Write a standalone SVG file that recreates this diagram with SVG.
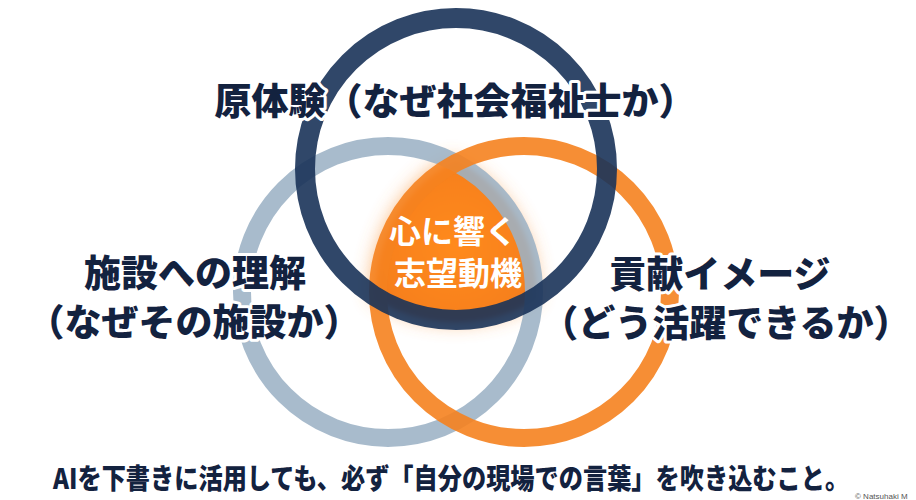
<svg xmlns="http://www.w3.org/2000/svg" width="916" height="500" viewBox="0 0 916 500">
  <defs>
    <style>
      .lbl { font-family: "Noto Sans CJK JP", "Noto Sans", sans-serif; font-weight: 900; fill: #13223f; stroke: #ffffff; stroke-width: 6; stroke-linejoin: round; paint-order: stroke; text-anchor: middle; }
      .ctr { font-family: "Noto Sans CJK JP", "Noto Sans", sans-serif; font-weight: 700; fill: #ffffff; text-anchor: middle; }
      .ring { fill: none; }
    </style>
    <clipPath id="cN"><circle cx="456" cy="169" r="153"/></clipPath>
    <clipPath id="cG"><circle cx="388" cy="292" r="148"/></clipPath>
    <radialGradient id="gFill" cx="456" cy="245" r="110" gradientUnits="userSpaceOnUse">
      <stop offset="0" stop-color="#ff8a1f"/>
      <stop offset="0.7" stop-color="#f7801c"/>
      <stop offset="1" stop-color="#e86f16"/>
    </radialGradient>
    <filter id="glow" x="-30%" y="-30%" width="160%" height="160%">
      <feGaussianBlur stdDeviation="10"/>
    </filter>
    <filter id="soft" x="-10%" y="-10%" width="120%" height="120%">
      <feGaussianBlur stdDeviation="2.5"/>
    </filter>
  </defs>
  <rect width="916" height="500" fill="#ffffff"/>

  <g id="core-glow" filter="url(#glow)" opacity="0.8">
    <g clip-path="url(#cN)"><g clip-path="url(#cG)">
      <circle cx="524" cy="292" r="152" fill="#f89a45"/>
    </g></g>
  </g>
  <g id="core-fill" filter="url(#soft)">
    <g clip-path="url(#cN)"><g clip-path="url(#cG)">
      <circle cx="524" cy="292" r="148" fill="url(#gFill)"/>
    </g></g>
  </g>

  <g id="rings">
    <circle id="ring-gray" class="ring" cx="388" cy="292" r="146" stroke="#9cb2c5" stroke-width="18" opacity="0.88"/>
    <circle id="ring-orange" class="ring" cx="524" cy="292" r="146" stroke="#f5821f" stroke-width="18" opacity="0.9"/>
    <circle id="ring-navy" class="ring" cx="456" cy="169" r="151" stroke="#1a3359" stroke-width="20" opacity="0.9"/>
  </g>

  <g id="node-top">
    <text class="lbl" x="455" y="115" font-size="37">原体験（なぜ社会福祉士か）</text>
  </g>
  <g id="node-left">
    <text class="lbl" x="195" y="287" font-size="37">施設への理解</text>
    <text class="lbl" x="194" y="336" font-size="37">（なぜその施設か）</text>
  </g>
  <g id="node-right">
    <text class="lbl" x="720" y="288" font-size="37">貢献イメージ</text>
    <text class="lbl" x="726" y="337" font-size="37">（どう活躍できるか）</text>
  </g>
  <g id="node-center">
    <text class="ctr" x="453" y="243" font-size="32">心に響く</text>
    <text class="ctr" x="458" y="285" font-size="32">志望動機</text>
  </g>

  <g id="footer">
    <text transform="translate(53,489) scale(0.865,1)" x="0" y="0" font-family="'Noto Sans CJK JP', 'Noto Sans', sans-serif" font-weight="900" font-size="28" fill="#13223f">AIを下書きに活用しても、必ず「自分の現場での言葉」を吹き込むこと。</text>
    <text x="855" y="499" font-family="'Liberation Sans', sans-serif" font-size="8" fill="#555555">© Natsuhaki M</text>
  </g>
</svg>
